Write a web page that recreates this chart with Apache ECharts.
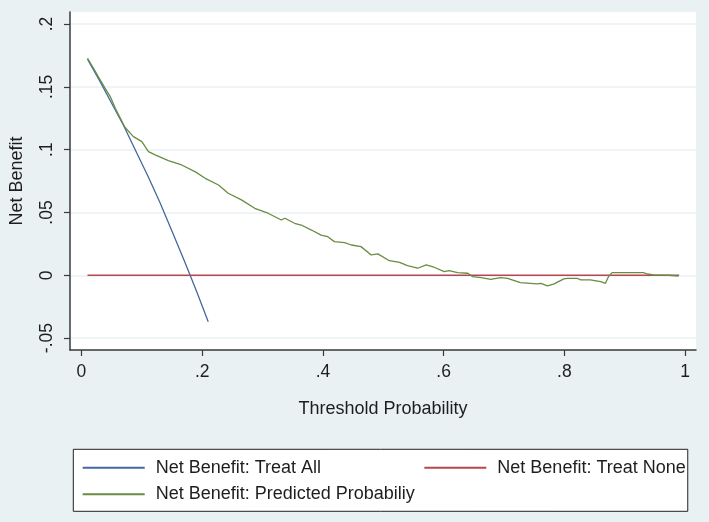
<!DOCTYPE html>
<html>
<head>
<meta charset="utf-8">
<script src="https://cdn.jsdelivr.net/npm/echarts@6/dist/echarts.min.js"></script>
<style>
html,body{margin:0;padding:0;background:#eaf1f3;}
#chart{width:709px;height:522px;}
</style>
</head>
<body>
<div id="chart"></div>
<script>
// ---- data ----
var xTicks = [0, 0.2, 0.4, 0.6, 0.8, 1];
var yTicks = [-0.05, 0, 0.05, 0.1, 0.15, 0.2];

var treatAllX = [0.01, 0.03, 0.05, 0.07, 0.09, 0.11, 0.13, 0.15, 0.17, 0.19, 0.21];
var treatAllY = [0.172, 0.155, 0.137, 0.119, 0.099, 0.079, 0.058, 0.035, 0.012, -0.012, -0.037];

var treatNoneX = [0.01, 0.99];
var treatNoneY = [0, 0];

var predX = [0.010, 0.020, 0.028, 0.039, 0.048, 0.056, 0.072, 0.086, 0.100, 0.111, 0.122, 0.144, 0.166, 0.188, 0.205, 0.227, 0.243, 0.265, 0.287, 0.309, 0.331, 0.337, 0.353, 0.364, 0.381, 0.397, 0.408, 0.419, 0.436, 0.447, 0.463, 0.480, 0.491, 0.510, 0.527, 0.540, 0.557, 0.571, 0.584, 0.601, 0.609, 0.623, 0.640, 0.648, 0.662, 0.678, 0.694, 0.706, 0.727, 0.744, 0.755, 0.761, 0.772, 0.783, 0.799, 0.805, 0.821, 0.827, 0.843, 0.860, 0.868, 0.873, 0.879, 0.931, 0.937, 0.948, 0.972, 0.989];
var predY = [0.1728, 0.1648, 0.158, 0.149, 0.142, 0.133, 0.1178, 0.1104, 0.1064, 0.0984, 0.0958, 0.0913, 0.0878, 0.0825, 0.0772, 0.0719, 0.0653, 0.060, 0.0533, 0.0494, 0.044, 0.0454, 0.0414, 0.040, 0.036, 0.032, 0.0307, 0.0268, 0.026, 0.0241, 0.0228, 0.0162, 0.017, 0.0116, 0.0103, 0.0077, 0.0056, 0.0082, 0.0064, 0.0029, 0.0037, 0.0021, 0.0016, -0.0011, -0.0019, -0.0032, -0.0019, -0.0024, -0.0059, -0.0064, -0.0069, -0.0064, -0.0085, -0.0069, -0.0029, -0.0024, -0.0024, -0.0037, -0.0037, -0.0051, -0.0064, -0.0011, 0.0021, 0.0021, 0.0010, 0.0002, 0.0000, -0.0006];

var seriesNames = ['Net Benefit: Treat All', 'Net Benefit: Treat None', 'Net Benefit: Predicted Probabiliy'];

function pairs(xs, ys) { return xs.map(function (x, i) { return [x, ys[i]]; }); }
function fmt(v) { return String(+v.toFixed(4)).replace('0.', '.'); }

var FONT = 'Liberation Sans, Arial, sans-serif';
var TXT = '#1e1e1e';
var AXC = '#3a3a3a';
var BLUE = '#44689e', RED = '#b84650', GREEN = '#678d42';

var chart = echarts.init(document.getElementById('chart'), null, {renderer: 'canvas'});
chart.setOption({
  backgroundColor: '#eaf1f3',
  animation: false,
  grid: {
    left: 68, right: 13, top: 12, bottom: 172,
    show: true, backgroundColor: '#ffffff', borderWidth: 0,
    containLabel: false
  },
  xAxis: {
    type: 'value',
    min: -0.019, max: 1.018,
    name: 'Threshold Probability',
    nameLocation: 'middle', nameGap: 50,
    nameTextStyle: {fontFamily: FONT, fontSize: 18, color: TXT},
    axisLine: {show: true, onZero: false, lineStyle: {color: AXC, width: 1.5}},
    axisTick: {show: true, length: 6, customValues: xTicks, lineStyle: {color: AXC, width: 1.2}},
    axisLabel: {customValues: xTicks, formatter: fmt, margin: 13, fontFamily: FONT, fontSize: 17.5, color: TXT},
    splitLine: {show: false}
  },
  yAxis: {
    type: 'value',
    min: -0.0595, max: 0.2096,
    name: 'Net Benefit',
    nameLocation: 'middle', nameGap: 44, nameRotate: 90,
    nameTextStyle: {fontFamily: FONT, fontSize: 18, color: TXT},
    axisLine: {show: true, onZero: false, lineStyle: {color: AXC, width: 1.5}},
    axisTick: {show: true, length: 6, customValues: yTicks, lineStyle: {color: AXC, width: 1.2}},
    axisLabel: {customValues: yTicks, formatter: fmt, rotate: 90, margin: 14, fontFamily: FONT, fontSize: 17.5, color: TXT},
    splitLine: {show: true, lineStyle: {color: '#eaf2f3', width: 1.5}}
  },
  legend: {
    orient: 'vertical',
    left: 73.3, top: 449.3,
    height: 52,
    padding: [9.5, 2, 8, 8.4],
    itemGap: 8.5,
    itemWidth: 62, itemHeight: 14,
    backgroundColor: '#ffffff',
    borderColor: '#222222', borderWidth: 1,
    borderRadius: 0,
    itemStyle: {opacity: 0},
    lineStyle: {opacity: 1},
    data: [seriesNames[0], seriesNames[2], seriesNames[1]],
    textStyle: {fontFamily: FONT, fontSize: 18, color: TXT, padding: [0, 4.5, 0, 6]}
  },
  series: [
    {
      name: seriesNames[0], type: 'line', symbol: 'none',
      data: pairs(treatAllX, treatAllY),
      lineStyle: {color: BLUE, width: 1.3}, itemStyle: {color: BLUE}
    },
    {
      name: seriesNames[1], type: 'line', symbol: 'none',
      data: pairs(treatNoneX, treatNoneY),
      lineStyle: {color: RED, width: 1.3}, itemStyle: {color: RED}
    },
    {
      name: seriesNames[2], type: 'line', symbol: 'none',
      data: pairs(predX, predY),
      lineStyle: {color: GREEN, width: 1.3}, itemStyle: {color: GREEN}
    }
  ]
});
</script>
</body>
</html>
